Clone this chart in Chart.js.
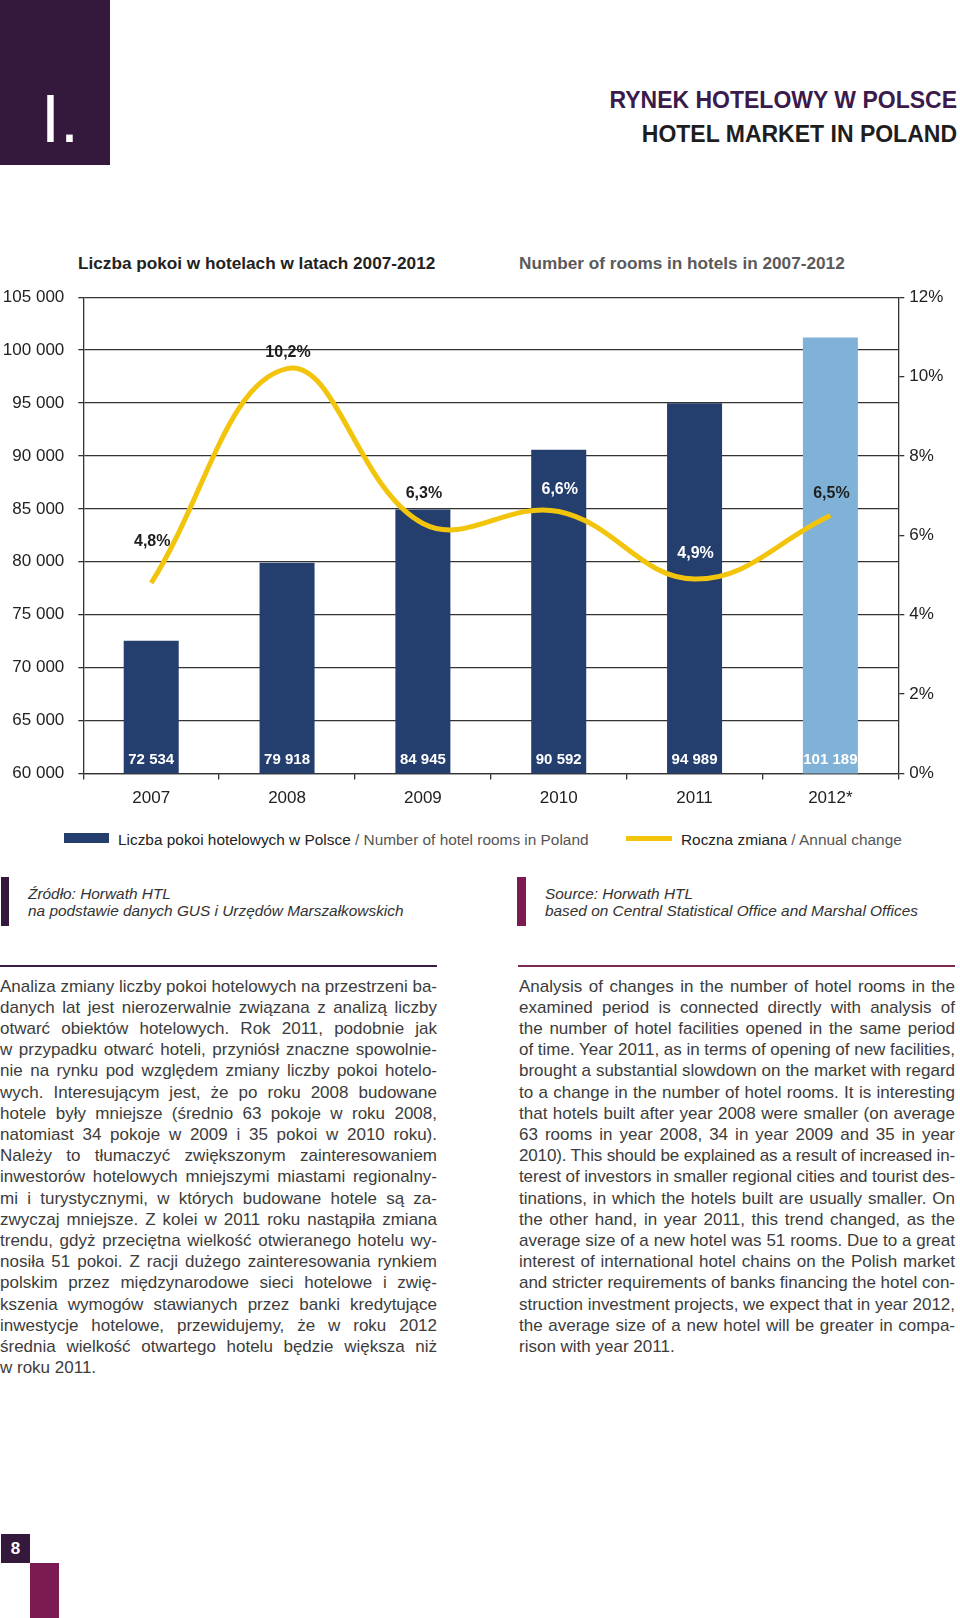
<!DOCTYPE html>
<html lang="pl">
<head>
<meta charset="utf-8">
<title>Rynek hotelowy w Polsce</title>
<script src="https://cdn.jsdelivr.net/npm/chart.js@4.4.1/dist/chart.umd.min.js"></script>
<style>
  html, body { margin: 0; padding: 0; background: #fff; }
  body { width: 960px; height: 1618px; position: relative; overflow: hidden;
         font-family: "Liberation Sans", Arial, sans-serif; color: #222; }
  .abs { position: absolute; white-space: nowrap; }
  #block { left: 0; top: 0; width: 110px; height: 165px; background: #34193d; }
  #roman { left: 41px; top: 84px; font-size: 68px; line-height: 68px; color: #fff; }
  .head { right: 3px; font-size: 23px; font-weight: bold; line-height: 30px; }
  #h1 { top: 85px; color: #3b1a4c; }
  #h2 { top: 119px; color: #1e1e1e; }
  .ctitle { top: 253px; font-size: 17.2px; font-weight: bold; line-height: 20px; }
  #ct1 { left: 78px; color: #222; }
  #ct2 { left: 519px; color: #5a5a5a; }
  #chartWrap { left: 0; top: 270px; width: 960px; height: 555px; }
  .sw { position: absolute; }
  .leg { top: 831px; font-size: 15.4px; line-height: 17px; color: #222; }
  .leg span { color: #555; }
  .src { font-size: 15.4px; font-style: italic; line-height: 17px; color: #333; }
  .rule { position: absolute; height: 2px; }
  .col { position: absolute; top: 975.5px; font-size: 17px; line-height: 21.2px; color: #3c3c3c; }
  .col .ln { white-space: nowrap; text-align: justify; text-align-last: justify; }
  .col .ln.last { text-align-last: left; }
</style>
</head>
<body>
<div class="abs" id="block"></div>
<div class="abs" id="roman">I.</div>
<div class="abs head" id="h1">RYNEK HOTELOWY W POLSCE</div>
<div class="abs head" id="h2">HOTEL MARKET IN POLAND</div>

<div class="abs ctitle" id="ct1">Liczba pokoi w hotelach w latach 2007-2012</div>
<div class="abs ctitle" id="ct2">Number of rooms in hotels in 2007-2012</div>

<div class="abs" id="chartWrap"><canvas id="c" width="960" height="555"></canvas></div>

<div class="sw" style="left:64px;top:833px;width:45px;height:10px;background:#243f6e"></div>
<div class="abs leg" style="left:118px">Liczba pokoi hotelowych w Polsce <span>/ Number of hotel rooms in Poland</span></div>
<div class="sw" style="left:626px;top:836px;width:46px;height:5px;background:#f2c40c"></div>
<div class="abs leg" style="left:681px">Roczna zmiana <span>/ Annual change</span></div>

<div class="sw" style="left:1px;top:877px;width:8px;height:49px;background:#34193d"></div>
<div class="abs src" style="left:28px;top:885px">Źródło: Horwath HTL<br>na podstawie danych GUS i Urzędów Marszałkowskich</div>
<div class="sw" style="left:517px;top:877px;width:9px;height:49px;background:#7c1a52"></div>
<div class="abs src" style="left:545px;top:885px">Source: Horwath HTL<br>based on Central Statistical Office and Marshal Offices</div>

<div class="rule" style="left:0;top:965px;width:437px;background:#3a1f45"></div>
<div class="rule" style="left:518px;top:965px;width:437px;background:#7a2a55"></div>

<div class="col" id="colL" style="left:0;width:437px">
  <div class="ln">Analiza zmiany liczby pokoi hotelowych na przestrzeni ba-</div>
  <div class="ln">danych lat jest nierozerwalnie związana z analizą liczby</div>
  <div class="ln">otwarć obiektów hotelowych. Rok 2011, podobnie jak</div>
  <div class="ln">w przypadku otwarć hoteli, przyniósł znaczne spowolnie-</div>
  <div class="ln">nie na rynku pod względem zmiany liczby pokoi hotelo-</div>
  <div class="ln">wych. Interesującym jest, że po roku 2008 budowane</div>
  <div class="ln">hotele były mniejsze (średnio 63 pokoje w roku 2008,</div>
  <div class="ln">natomiast 34 pokoje w 2009 i 35 pokoi w 2010 roku).</div>
  <div class="ln">Należy to tłumaczyć zwiększonym zainteresowaniem</div>
  <div class="ln">inwestorów hotelowych mniejszymi miastami regionalny-</div>
  <div class="ln">mi i turystycznymi, w których budowane hotele są za-</div>
  <div class="ln">zwyczaj mniejsze. Z kolei w 2011 roku nastąpiła zmiana</div>
  <div class="ln">trendu, gdyż przeciętna wielkość otwieranego hotelu wy-</div>
  <div class="ln">nosiła 51 pokoi. Z racji dużego zainteresowania rynkiem</div>
  <div class="ln">polskim przez międzynarodowe sieci hotelowe i zwię-</div>
  <div class="ln">kszenia wymogów stawianych przez banki kredytujące</div>
  <div class="ln">inwestycje hotelowe, przewidujemy, że w roku 2012</div>
  <div class="ln">średnia wielkość otwartego hotelu będzie większa niż</div>
  <div class="ln last">w roku 2011.</div>
</div>

<div class="col" id="colR" style="left:519px;width:436px">
  <div class="ln">Analysis of changes in the number of hotel rooms in the</div>
  <div class="ln">examined period is connected directly with analysis of</div>
  <div class="ln">the number of hotel facilities opened in the same period</div>
  <div class="ln">of time. Year 2011, as in terms of opening of new facilities,</div>
  <div class="ln">brought a substantial slowdown on the market with regard</div>
  <div class="ln">to a change in the number of hotel rooms. It is interesting</div>
  <div class="ln">that hotels built after year 2008 were smaller (on average</div>
  <div class="ln">63 rooms in year 2008, 34 in year 2009 and 35 in year</div>
  <div class="ln">2010). This should be explained as a result of increased in-</div>
  <div class="ln">terest of investors in smaller regional cities and tourist des-</div>
  <div class="ln">tinations, in which the hotels built are usually smaller. On</div>
  <div class="ln">the other hand, in year 2011, this trend changed, as the</div>
  <div class="ln">average size of a new hotel was 51 rooms. Due to a great</div>
  <div class="ln">interest of international hotel chains on the Polish market</div>
  <div class="ln">and stricter requirements of banks financing the hotel con-</div>
  <div class="ln">struction investment projects, we expect that in year 2012,</div>
  <div class="ln">the average size of a new hotel will be greater in compa-</div>
  <div class="ln last">rison with year 2011.</div>
</div>

<div class="sw" style="left:1px;top:1534px;width:29px;height:29px;background:#34193d"></div>
<div class="abs" style="left:1px;top:1538px;width:29px;text-align:center;color:#fff;font-weight:bold;font-size:17px;line-height:21px">8</div>
<div class="sw" style="left:30px;top:1563px;width:29px;height:55px;background:#7c1a52"></div>

<script>
// dane wykresu
var years = ['2007', '2008', '2009', '2010', '2011', '2012*'];
var rooms = [72534, 79918, 84945, 90592, 94989, 101189];
var change = [4.8, 10.2, 6.3, 6.6, 4.9, 6.5];
var roomsAxis = { min: 60000, max: 105000, step: 5000 };
var changeAxis = { min: 0, max: 12, step: 2 };

// wygląd etykiet
var barColors = ['#243f6e', '#243f6e', '#243f6e', '#243f6e', '#243f6e', '#80b1d7'];
var pctShift = [-41, -16, -30, -22, -25, -22];
var pctColors = ['#1e1e1e', '#1e1e1e', '#1e1e1e', '#ffffff', '#ffffff', '#1e1e1e'];

function fmtThousands(v) { return String(v).replace(/\B(?=(\d{3})+(?!\d))/g, ' '); }
function fmtPct(v) { return String(v).replace('.', ',') + '%'; }

// wyrównanie wierszy tekstu do szerokości kolumny
document.querySelectorAll('.col').forEach(function (col) {
    var w = col.clientWidth;
    col.querySelectorAll('.ln').forEach(function (ln) {
        var probe = document.createElement('span'); probe.textContent = ln.textContent;
        probe.style.whiteSpace = 'nowrap'; probe.style.visibility = 'hidden'; probe.style.position = 'absolute';
        col.appendChild(probe);
        var nat = probe.getBoundingClientRect().width; col.removeChild(probe);
        if (nat > w) ln.style.letterSpacing = ((w - nat) / ln.textContent.length) + 'px';
    });
});

var labelPlugin = {
    id: 'labels',
    afterDatasetsDraw: function (chart) {
        var ctx = chart.ctx, area = chart.chartArea;
        ctx.save();
        ctx.textAlign = 'center'; ctx.textBaseline = 'middle';
        ctx.font = 'bold 15px "Liberation Sans", Arial, sans-serif';
        ctx.fillStyle = '#ffffff';
        chart.getDatasetMeta(1).data.forEach(function (bar, i) {
            ctx.fillText(fmtThousands(rooms[i]), bar.x, area.bottom - 14);
        });
        ctx.font = 'bold 16px "Liberation Sans", Arial, sans-serif';
        chart.getDatasetMeta(0).data.forEach(function (pt, i) {
            ctx.fillStyle = pctColors[i];
            ctx.fillText(fmtPct(change[i]), pt.x + 1, pt.y + pctShift[i]);
        });
        ctx.restore();
    }
};

Chart.defaults.font.family = '"Liberation Sans", Arial, sans-serif';
Chart.defaults.color = '#222';

new Chart(document.getElementById('c'), {
    type: 'bar',
    data: {
        labels: years,
        datasets: [
            { type: 'line', label: 'Roczna zmiana', data: change, yAxisID: 'y1', borderColor: '#f2c40c',
              borderWidth: 5, pointRadius: 0, tension: 0.4, fill: false, borderCapStyle: 'butt', order: 0 },
            { type: 'bar', label: 'Liczba pokoi', data: rooms, yAxisID: 'y', backgroundColor: barColors,
              categoryPercentage: 1, barPercentage: 0.405, order: 1 }
        ]
    },
    options: {
        responsive: false, animation: false,
        layout: { padding: { top: 27.2, left: 0, right: 0, bottom: 0 } },
        plugins: { legend: { display: false }, tooltip: { enabled: false } },
        scales: {
            x: {
                grid: { drawOnChartArea: false, offset: true, tickLength: 6, color: '#333', lineWidth: 1.3 },
                border: { color: '#333', width: 1.3 },
                ticks: { font: { size: 17 }, color: '#222', padding: 9 },
                afterFit: function (s) { s.height = 51.5; }
            },
            y: {
                position: 'left', min: roomsAxis.min, max: roomsAxis.max,
                ticks: { stepSize: roomsAxis.step, font: { size: 17 }, color: '#222', padding: 14,
                         callback: function (v) { return fmtThousands(v); } },
                grid: { color: '#333', lineWidth: 1.3, tickLength: 5 },
                border: { color: '#333', width: 1.3 },
                afterFit: function (s) { s.width = 83.3; }
            },
            y1: {
                position: 'right', min: changeAxis.min, max: changeAxis.max,
                ticks: { stepSize: changeAxis.step, font: { size: 17 }, color: '#222', padding: 5,
                         callback: function (v) { return v + '%'; } },
                grid: { drawOnChartArea: false, color: '#333', lineWidth: 1.3, tickLength: 6 },
                border: { color: '#333', width: 1.3 },
                afterFit: function (s) { s.width = 61.7; }
            }
        }
    },
    plugins: [labelPlugin]
});
</script>
</body>
</html>
